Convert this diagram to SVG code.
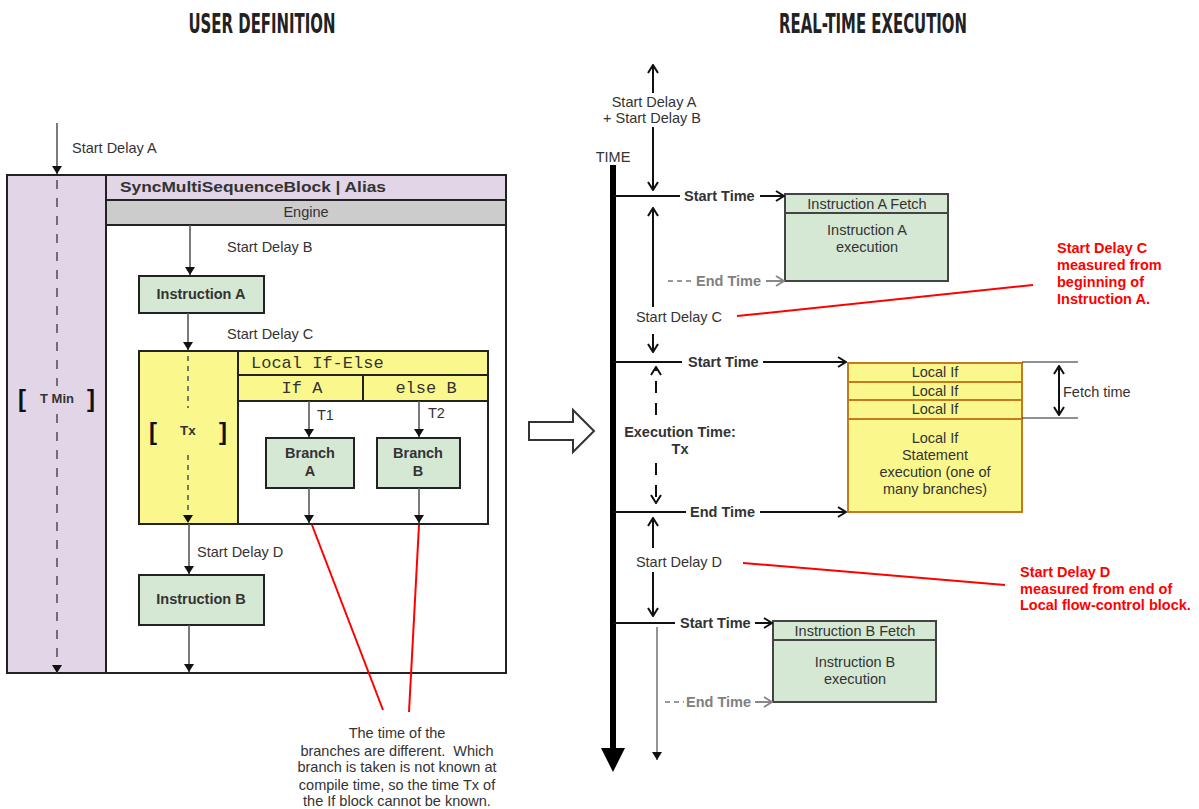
<svg xmlns="http://www.w3.org/2000/svg" width="1199" height="809" viewBox="0 0 1199 809">
  <style>
    text { font-family: "Liberation Sans", Arial, sans-serif; font-size: 14.5px; fill: #333; white-space: pre; }
    .b { font-weight: bold; }
    .mid { text-anchor: middle; }
    .title { font-family: "Liberation Sans Narrow", "DejaVu Sans Condensed", "DejaVu Sans", sans-serif; font-weight: bold; font-size: 27px; fill: #222; }
    .mono { font-family: "Liberation Mono", "Courier New", monospace; font-size: 17px; }
    .red { fill: #ff0000; font-weight: bold; }
    .gray { fill: #808080; font-weight: bold; }
    .brk { font-weight: bold; font-size: 24px; fill: #111; text-anchor: middle; }
    .box { stroke: #222; stroke-width: 2; }
    .flow { stroke: #5a5a5a; stroke-width: 1.6; fill: none; marker-end: url(#tri); }
    .tl { stroke: #111; stroke-width: 2; fill: none; }
    .note { stroke: #ff0000; stroke-width: 2; fill: none; }
  </style>
  <defs>
    <marker id="tri" viewBox="0 0 8 10" refX="8" refY="5" markerWidth="8" markerHeight="10" markerUnits="userSpaceOnUse" orient="auto">
      <path d="M0,0L8,5L0,10z" fill="#111"/>
    </marker>
    <marker id="open" viewBox="0 0 10 12" refX="9" refY="6" markerWidth="10" markerHeight="12" markerUnits="userSpaceOnUse" orient="auto">
      <path d="M1,1L9,6L1,11" fill="none" stroke="#111" stroke-width="2"/>
    </marker>
    <marker id="openStart" viewBox="0 0 10 12" refX="1" refY="6" markerWidth="10" markerHeight="12" markerUnits="userSpaceOnUse" orient="auto">
      <path d="M9,1L1,6L9,11" fill="none" stroke="#111" stroke-width="2"/>
    </marker>
    <marker id="openGray" viewBox="0 0 10 12" refX="9" refY="6" markerWidth="10" markerHeight="12" markerUnits="userSpaceOnUse" orient="auto">
      <path d="M1,1L9,6L1,11" fill="none" stroke="#888" stroke-width="2"/>
    </marker>
  </defs>

  <!-- headings -->
  <text class="title mid" x="262" y="33" textLength="147" lengthAdjust="spacingAndGlyphs">USER DEFINITION</text>
  <text class="title mid" x="873" y="33" textLength="188" lengthAdjust="spacingAndGlyphs">REAL-TIME EXECUTION</text>

  <!-- ============ left: user definition ============ -->
  <g id="sync-block">
    <rect x="7" y="175" width="499" height="498" fill="#ffffff" class="box"/>
    <rect x="7" y="175" width="99" height="498" fill="#e1d5e7" class="box"/>
    <rect x="106" y="175" width="400" height="25" fill="#e1d5e7" class="box"/>
    <rect x="106" y="200" width="400" height="25" fill="#cccccc" class="box"/>
    <text class="b" x="120" y="192" style="font-size:15.5px" textLength="266" lengthAdjust="spacingAndGlyphs">SyncMultiSequenceBlock | Alias</text>
    <text class="mid" x="306" y="217">Engine</text>
  </g>

  <g id="tmin">
    <line x1="57" y1="180" x2="57" y2="673" stroke="#555" stroke-width="1.6" stroke-dasharray="9 9" marker-end="url(#tri)"/>
    <rect x="30" y="386" width="54" height="24" fill="#e1d5e7"/>
    <text class="brk" x="22" y="407">[</text>
    <text class="b mid" x="57" y="403" style="font-size:13px">T Min</text>
    <text class="brk" x="91" y="407">]</text>
  </g>

  <g id="instruction-a">
    <rect x="139" y="276" width="125" height="37" fill="#d5e8d4" class="box"/>
    <text class="b mid" x="201" y="299">Instruction A</text>
  </g>

  <g id="local-if-else">
    <rect x="139" y="351" width="349" height="173" fill="#ffffff" class="box"/>
    <rect x="139" y="351" width="99" height="173" fill="#faf88c" class="box"/>
    <rect x="238" y="351" width="250" height="24" fill="#faf88c" class="box"/>
    <rect x="238" y="375" width="125" height="26" fill="#faf88c" class="box"/>
    <rect x="363" y="375" width="125" height="26" fill="#faf88c" class="box"/>
    <text class="mono" x="251" y="368">Local If-Else</text>
    <text class="mono mid" x="302" y="393">If A</text>
    <text class="mono mid" x="426" y="393">else B</text>
    <text class="brk" x="153" y="440">[</text>
    <text class="b mid" x="188" y="435" style="font-size:13.5px">Tx</text>
    <text class="brk" x="223" y="440">]</text>
  </g>

  <g id="branch-a">
    <rect x="266" y="438" width="88" height="50" fill="#d5e8d4" class="box"/>
    <text class="b mid" x="310" y="458">Branch</text>
    <text class="b mid" x="310" y="476">A</text>
  </g>

  <g id="branch-b">
    <rect x="377" y="438" width="83" height="50" fill="#d5e8d4" class="box"/>
    <text class="b mid" x="418" y="458">Branch</text>
    <text class="b mid" x="418" y="476">B</text>
  </g>

  <g id="instruction-b">
    <rect x="139" y="575" width="125" height="50" fill="#d5e8d4" class="box"/>
    <text class="b mid" x="201" y="604">Instruction B</text>
  </g>

  <g id="left-connectors">
    <line x1="57" y1="123" x2="57" y2="174" class="flow"/>
    <line x1="190" y1="225" x2="190" y2="275" class="flow"/>
    <line x1="188" y1="313" x2="188" y2="350" class="flow"/>
    <line x1="188" y1="356" x2="188" y2="408" stroke="#5a5a5a" stroke-width="1.6" stroke-dasharray="5 5"/>
    <line x1="188" y1="455" x2="188" y2="523" stroke="#5a5a5a" stroke-width="1.6" stroke-dasharray="5 5" marker-end="url(#tri)"/>
    <line x1="309" y1="401" x2="309" y2="437" class="flow"/>
    <line x1="419" y1="401" x2="419" y2="437" class="flow"/>
    <line x1="309" y1="488" x2="309" y2="523" class="flow"/>
    <line x1="419" y1="488" x2="419" y2="523" class="flow"/>
    <line x1="189" y1="524" x2="189" y2="574" class="flow"/>
    <line x1="189" y1="625" x2="189" y2="672" class="flow"/>
    <line x1="312" y1="525" x2="383" y2="710" class="note"/>
    <line x1="419" y1="525" x2="409" y2="712" class="note"/>
  </g>

  <g id="left-labels">
    <text x="72" y="153">Start Delay A</text>
    <text x="227" y="252">Start Delay B</text>
    <text x="227" y="339">Start Delay C</text>
    <text x="317" y="420">T1</text>
    <text x="428" y="418">T2</text>
    <text x="197" y="557">Start Delay D</text>
  </g>

  <g id="branch-note">
    <text class="mid" x="397" y="738">The time of the</text>
    <text class="mid" x="397" y="756">branches are different.  Which</text>
    <text class="mid" x="397" y="772">branch is taken is not known at</text>
    <text class="mid" x="397" y="790">compile time, so the time Tx of</text>
    <text class="mid" x="397" y="806">the If block cannot be known.</text>
  </g>

  <!-- hollow arrow between the two halves -->
  <g id="transition-arrow">
    <path d="M529,422 L573,422 L573,410 L594,431 L573,452 L573,440 L529,440 Z" fill="#ffffff" stroke="#333" stroke-width="2"/>
  </g>

  <!-- ============ right: real-time execution ============ -->
  <g id="time-axis">
    <line x1="613" y1="165" x2="613" y2="750" stroke="#000" stroke-width="6"/>
    <path d="M601,748 L625,748 L613,772 Z" fill="#000"/>
    <text class="mid" x="613" y="162">TIME</text>
  </g>

  <g id="instruction-a-exec">
    <rect x="785" y="194" width="163" height="87" fill="#d5e8d4" stroke="#444" stroke-width="2"/>
    <line x1="785" y1="213" x2="948" y2="213" stroke="#444" stroke-width="2"/>
    <text class="mid" x="867" y="209">Instruction A Fetch</text>
    <text class="mid" x="867" y="235">Instruction A</text>
    <text class="mid" x="867" y="252">execution</text>
  </g>

  <g id="local-if-exec">
    <rect x="848" y="363" width="174" height="149" fill="#faf88c" stroke="#c47a1e" stroke-width="2"/>
    <line x1="848" y1="382" x2="1022" y2="382" stroke="#c47a1e" stroke-width="2"/>
    <line x1="848" y1="400" x2="1022" y2="400" stroke="#c47a1e" stroke-width="2"/>
    <line x1="848" y1="419" x2="1022" y2="419" stroke="#c47a1e" stroke-width="2"/>
    <text class="mid" x="935" y="377">Local If</text>
    <text class="mid" x="935" y="396">Local If</text>
    <text class="mid" x="935" y="414">Local If</text>
    <text class="mid" x="935" y="443">Local If</text>
    <text class="mid" x="935" y="460">Statement</text>
    <text class="mid" x="935" y="477">execution (one of</text>
    <text class="mid" x="935" y="494">many branches)</text>
  </g>

  <g id="instruction-b-exec">
    <rect x="773" y="621" width="163" height="81" fill="#d5e8d4" stroke="#444" stroke-width="2"/>
    <line x1="773" y1="640" x2="936" y2="640" stroke="#444" stroke-width="2"/>
    <text class="mid" x="855" y="636">Instruction B Fetch</text>
    <text class="mid" x="855" y="667">Instruction B</text>
    <text class="mid" x="855" y="684">execution</text>
  </g>

  <g id="right-connectors">
    <!-- start delay A + B -->
    <line x1="653" y1="93" x2="653" y2="65" class="tl" marker-end="url(#open)"/>
    <line x1="653" y1="127" x2="653" y2="190" class="tl" marker-end="url(#open)"/>
    <!-- start time, instruction A -->
    <line x1="613" y1="196" x2="680" y2="196" class="tl"/>
    <line x1="760" y1="196" x2="784" y2="196" class="tl" marker-end="url(#open)"/>
    <!-- start delay C -->
    <line x1="653" y1="307" x2="653" y2="208" class="tl" marker-end="url(#open)"/>
    <line x1="653" y1="334" x2="653" y2="352" class="tl" marker-end="url(#open)"/>
    <!-- end time, instruction A -->
    <line x1="668" y1="281" x2="694" y2="281" stroke="#999" stroke-width="2" stroke-dasharray="5 4"/>
    <line x1="766" y1="281" x2="784" y2="281" stroke="#888" stroke-width="2" marker-end="url(#openGray)"/>
    <!-- start time, local if -->
    <line x1="613" y1="362" x2="682" y2="362" class="tl"/>
    <line x1="763" y1="362" x2="846" y2="362" class="tl" marker-end="url(#open)"/>
    <!-- execution time Tx -->
    <line x1="656" y1="415" x2="656" y2="367" class="tl" stroke-dasharray="12 10" marker-end="url(#open)"/>
    <line x1="656" y1="463" x2="656" y2="503" class="tl" stroke-dasharray="12 10" marker-end="url(#open)"/>
    <!-- end time, local if -->
    <line x1="613" y1="512" x2="686" y2="512" class="tl"/>
    <line x1="760" y1="512" x2="846" y2="512" class="tl" marker-end="url(#open)"/>
    <!-- start delay D -->
    <line x1="653" y1="548" x2="653" y2="518" class="tl" marker-end="url(#open)"/>
    <line x1="653" y1="572" x2="653" y2="616" class="tl" marker-end="url(#open)"/>
    <!-- start time, instruction B -->
    <line x1="613" y1="623" x2="675" y2="623" class="tl"/>
    <line x1="755" y1="623" x2="772" y2="623" class="tl" marker-end="url(#open)"/>
    <!-- end time, instruction B -->
    <line x1="665" y1="702" x2="684" y2="702" stroke="#999" stroke-width="2" stroke-dasharray="5 4"/>
    <line x1="755" y1="702" x2="772" y2="702" stroke="#888" stroke-width="2" marker-end="url(#openGray)"/>
    <line x1="657" y1="627" x2="657" y2="760" stroke="#666" stroke-width="1.4" marker-end="url(#tri)"/>
    <!-- fetch time -->
    <line x1="1022" y1="362" x2="1078" y2="362" stroke="#222" stroke-width="1"/>
    <line x1="1022" y1="418" x2="1078" y2="418" stroke="#222" stroke-width="1"/>
    <line x1="1059" y1="366" x2="1059" y2="415" class="tl" marker-start="url(#openStart)" marker-end="url(#open)"/>
    <!-- notes -->
    <line x1="737" y1="316" x2="1033" y2="285" class="note"/>
    <line x1="743" y1="563" x2="1005" y2="585" class="note"/>
  </g>

  <g id="right-labels">
    <text class="mid" x="654" y="107">Start Delay A</text>
    <text class="mid" x="652" y="123">+ Start Delay B</text>
    <text class="b" x="684" y="201">Start Time</text>
    <text class="gray" x="696" y="286">End Time</text>
    <text class="mid" x="679" y="322">Start Delay C</text>
    <text class="b" x="688" y="367">Start Time</text>
    <text class="b mid" x="680" y="437">Execution Time:</text>
    <text class="b mid" x="680" y="454">Tx</text>
    <text class="b" x="690" y="517">End Time</text>
    <text class="mid" x="679" y="567">Start Delay D</text>
    <text class="b" x="680" y="628">Start Time</text>
    <text class="gray" x="686" y="707">End Time</text>
    <text x="1063" y="397">Fetch time</text>
  </g>

  <g id="notes">
    <text class="red" x="1057" y="253">Start Delay C</text>
    <text class="red" x="1057" y="270">measured from</text>
    <text class="red" x="1057" y="287">beginning of</text>
    <text class="red" x="1057" y="304">Instruction A.</text>
    <text class="red" x="1020" y="577">Start Delay D</text>
    <text class="red" x="1020" y="594">measured from end of</text>
    <text class="red" x="1020" y="610">Local flow-control block.</text>
  </g>
</svg>
